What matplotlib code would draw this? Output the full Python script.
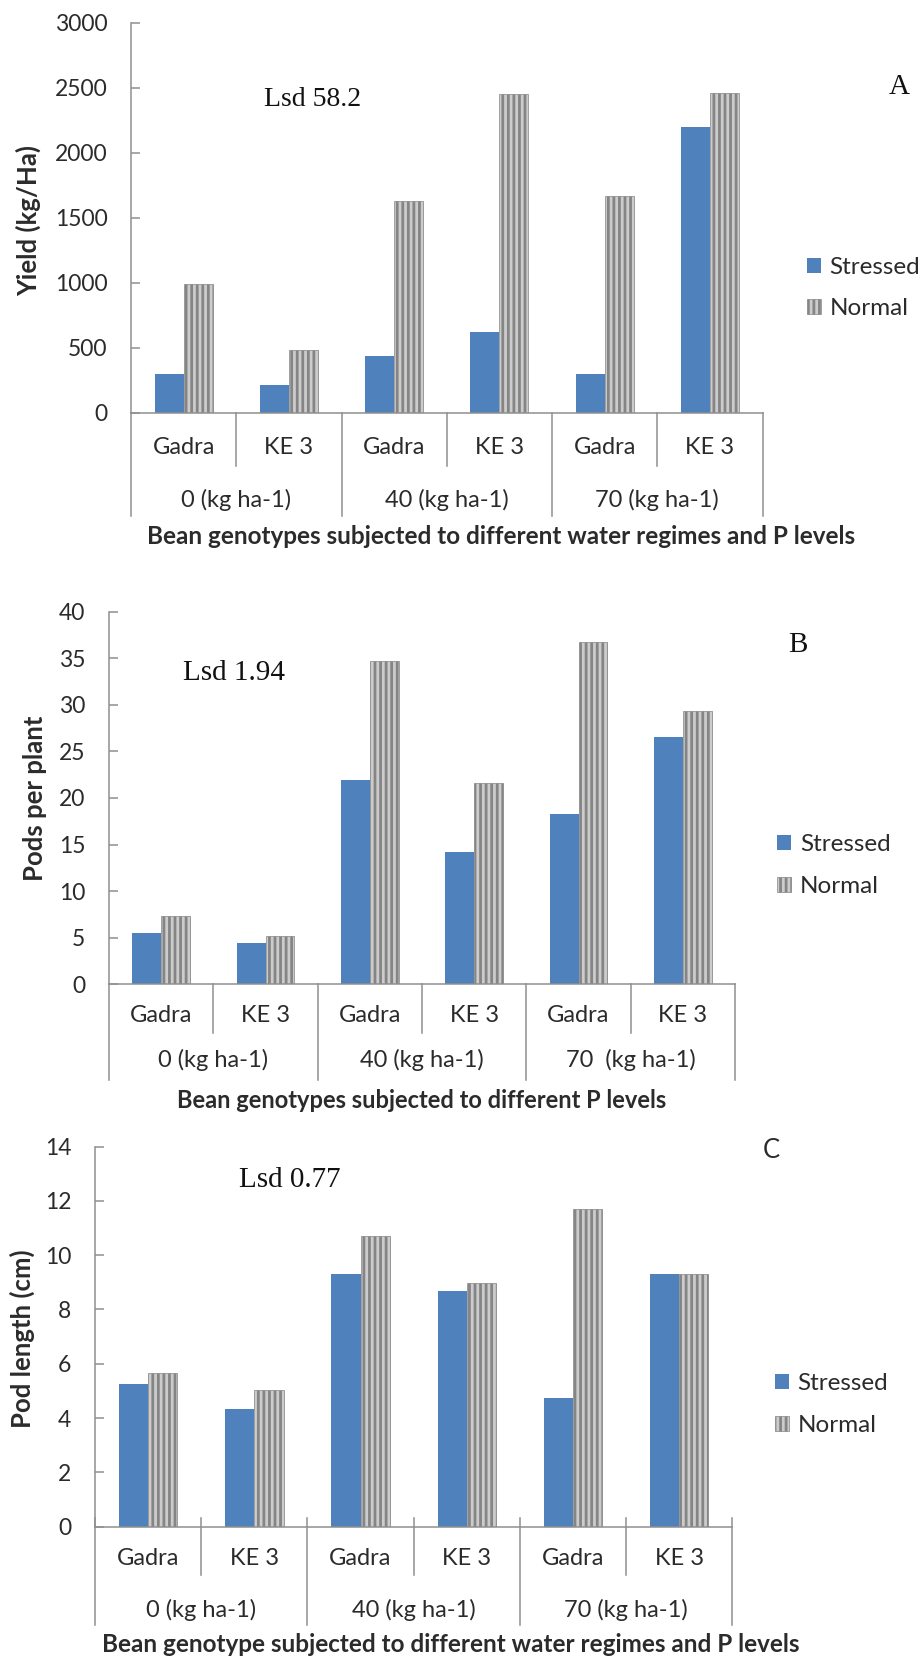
import numpy as np
import matplotlib.pyplot as plt

plt.rcParams['font.family'] = ['Lato', 'DejaVu Sans']
plt.rcParams['hatch.linewidth'] = 2.0

W, H = 922, 1659
BLUE = '#4f81bd'
GRAY_FACE = '#cccccc'
GRAY_LINE = '#858585'
AXIS = '#8f8f8f'
TXT = '#2b2b2b'
SERIF = ['Liberation Serif', 'DejaVu Serif']

# ── data ─────────────────────────────────────────────────────────────────────
genotypes = ['Gadra', 'KE 3', 'Gadra', 'KE 3', 'Gadra', 'KE 3']
p_levels_a = ['0 (kg ha-1)', '40 (kg ha-1)', '70 (kg ha-1)']
p_levels_b = ['0 (kg ha-1)', '40 (kg ha-1)', '70  (kg ha-1)']
series = ['Stressed', 'Normal']

yield_stressed = [300, 215, 435, 620, 300, 2195]
yield_normal = [990, 480, 1630, 2450, 1665, 2460]

pods_stressed = [5.5, 4.4, 21.9, 14.2, 18.3, 26.6]
pods_normal = [7.3, 5.2, 34.7, 21.6, 36.8, 29.3]

podlen_stressed = [5.26, 4.32, 9.31, 8.67, 4.73, 9.31]
podlen_normal = [5.67, 5.03, 10.71, 8.98, 11.69, 9.31]

fig = plt.figure(figsize=(W / 100, H / 100), dpi=100)
fig.patch.set_facecolor('white')


def ftext(x, y, s, **kw):
    # place text by pixel position in the figure
    kw.setdefault('ha', 'center')
    kw.setdefault('va', 'center')
    kw.setdefault('color', TXT)
    fig.text(x / W, 1 - y / H, s, **kw)


def panel(left, right, top, zero, ymax, ystep, stressed, normal, groups,
          cat_top, cat_line, grp_line, cat_lab, grp_lab, leg_x, leg_y):
    ax = fig.add_axes([left / W, 1 - zero / H, (right - left) / W, (zero - top) / H])
    hpx = zero - top
    x = np.arange(len(genotypes))
    bw = 0.275
    ax.bar(x - bw / 2, stressed, bw, color=BLUE, lw=0, label=series[0])
    ax.bar(x + bw / 2, normal, bw, color=GRAY_FACE, edgecolor=GRAY_LINE,
           hatch='|||', lw=0.5, label=series[1])

    ax.set_xlim(-0.5, len(x) - 0.5)
    ax.set_ylim(0, ymax)
    ax.set_yticks(np.arange(0, ymax + ystep / 2, ystep))
    ax.tick_params(axis='y', direction='in', length=6.5, width=1.1, color=AXIS,
                   labelsize=16.5, labelcolor=TXT, pad=17)
    ax.set_xticks([])
    for s in ['top', 'right']:
        ax.spines[s].set_visible(False)
    for s in ['left', 'bottom']:
        ax.spines[s].set_color(AXIS)
        ax.spines[s].set_linewidth(1.1)

    tr = ax.get_xaxis_transform()
    # category separators and group separators of the two-level axis
    for i in range(len(x) + 1):
        xs = i - 0.5
        depth = grp_line if i % 2 == 0 else cat_line
        ax.plot([xs, xs], [cat_top / hpx, -depth / hpx], color=AXIS, lw=1.1,
                transform=tr, clip_on=False)
    for i, g in enumerate(genotypes):
        ax.text(i, -cat_lab / hpx, g, transform=tr, ha='center', va='center',
                fontsize=17, color=TXT)
    for j, g in enumerate(groups):
        ax.text(2 * j + 0.5, -grp_lab / hpx, g, transform=tr, ha='center',
                va='center', fontsize=17, color=TXT)

    ax.legend(loc='center left', bbox_to_anchor=(leg_x / W, 1 - leg_y / H),
              bbox_transform=fig.transFigure, frameon=False, fontsize=17.5,
              handlelength=0.58, handleheight=0.58, handletextpad=0.35,
              labelspacing=0.85, borderpad=0, borderaxespad=0, labelcolor=TXT)
    return ax


# ── Panel A: yield ───────────────────────────────────────────────────────────
panel(131, 762.5, 22.5, 412.5, 3000, 500, yield_stressed, yield_normal, p_levels_a,
      0, 53.5, 103.5, 35.5, 87.5, 806.7, 288)
ftext(28, 221, 'Yield (kg/Ha)', rotation=90, fontsize=18.5, fontweight='bold')
ftext(501, 536, 'Bean genotypes subjected to different water regimes and P levels',
      fontsize=17.5, fontweight='bold')
ftext(312.5, 99, 'Lsd 58.2', fontsize=20, family=SERIF, color='#111111')
ftext(899, 87.5, 'A', fontsize=21, family=SERIF, color='#111111')

# ── Panel B: pods per plant ──────────────────────────────────────────────────
panel(109, 735, 611.7, 984.3, 40, 5, pods_stressed, pods_normal, p_levels_b,
      0, 48.4, 95.7, 30.7, 76, 777.3, 865.5)
ftext(35, 798, 'Pods per plant', rotation=90, fontsize=18.5, fontweight='bold')
ftext(422, 1100, 'Bean genotypes subjected to different P levels',
      fontsize=17, fontweight='bold')
ftext(234, 672.7, 'Lsd 1.94', fontsize=21, family=SERIF, color='#111111')
ftext(798, 645, 'B', fontsize=21, family=SERIF, color='#111111')

# ── Panel C: pod length ──────────────────────────────────────────────────────
panel(95, 732.3, 1146.5, 1526.8, 14, 2, podlen_stressed, podlen_normal, p_levels_a,
      9, 48, 97.9, 31.4, 83.2, 775, 1404.5)
ftext(22, 1338.5, 'Pod length (cm)', rotation=90, fontsize=18.5, fontweight='bold')
ftext(450.5, 1645, 'Bean genotype subjected to different water regimes and P levels',
      fontsize=17.5, fontweight='bold')
ftext(290, 1180, 'Lsd 0.77', fontsize=21, family=SERIF, color='#111111')
ftext(771.5, 1150, 'C', fontsize=18.5)

fig.savefig('out.png', dpi=100, facecolor='white')
